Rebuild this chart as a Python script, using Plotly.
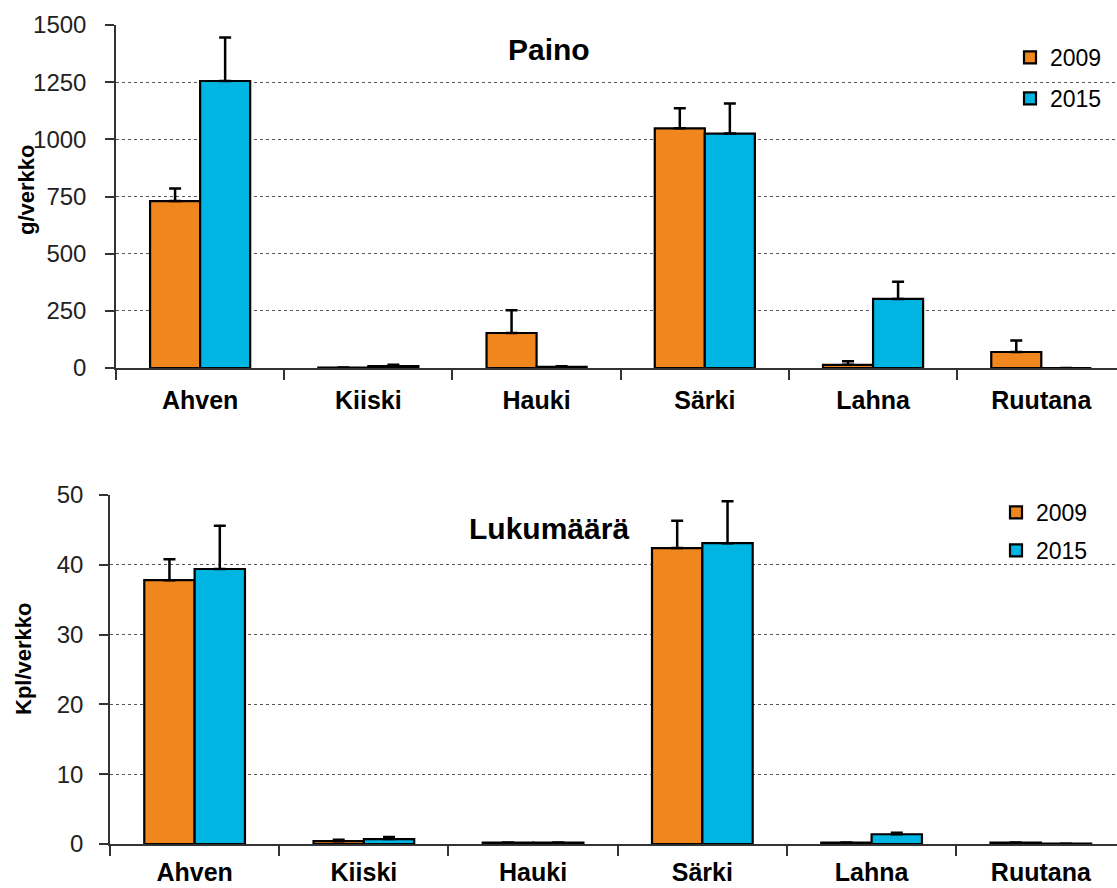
import plotly.graph_objects as go

species = ["Ahven", "Kiiski", "Hauki", "Särki", "Lahna", "Ruutana"]

# Paino (g/verkko)
paino_2009 = [730, 2, 153, 1048, 14, 70]
paino_2009_err = [55, 0, 100, 88, 16, 50]
paino_2015 = [1255, 8, 5, 1025, 302, 0]
paino_2015_err = [190, 6, 3, 132, 75, 0]

# Lukumäärä (kpl/verkko)
luku_2009 = [37.8, 0.4, 0.2, 42.4, 0.2, 0.2]
luku_2009_err = [3.0, 0.2, 0.0, 3.9, 0.0, 0.0]
luku_2015 = [39.4, 0.7, 0.2, 43.1, 1.4, 0.05]
luku_2015_err = [6.2, 0.3, 0.0, 6.0, 0.2, 0.0]

ORANGE = "#F0861E"
BLUE = "#00B5E2"
FONT = "Liberation Sans, Arial, sans-serif"

fig = go.Figure()


def add_pair(vals_a, err_a, vals_b, err_b, xref, yref, legend):
    for name, vals, err, col in (("2009", vals_a, err_a, ORANGE),
                                 ("2015", vals_b, err_b, BLUE)):
        fig.add_trace(go.Bar(
            x=species, y=vals, name=name, xaxis=xref, yaxis=yref,
            legend=legend, offsetgroup=name, legendgroup=legend + name,
            marker=dict(color=col, line=dict(color="black", width=2.2)),
            error_y=dict(type="data", array=err, arrayminus=[0] * len(err),
                         symmetric=False, color="black", thickness=2.5, width=6),
        ))


add_pair(paino_2009, paino_2009_err, paino_2015, paino_2015_err, "x", "y", "legend")
add_pair(luku_2009, luku_2009_err, luku_2015, luku_2015_err, "x2", "y2", "legend2")

H = 888.0
W = 1117.0
top_dom = [(H - 368) / H, (H - 25) / H]
bot_dom = [(H - 844) / H, (H - 495) / H]

tick_font = dict(family=FONT, size=24, color="#222")
cat_font = dict(family=FONT, size=25, color="black", weight="bold")
title_font = dict(family=FONT, size=22, color="black")

xcommon = dict(
    type="category", showline=True, linecolor="#333", linewidth=1.5,
    ticks="outside", tickson="boundaries", ticklen=10, tickcolor="#333",
    tickwidth=1.5, showgrid=False, tickfont=cat_font,
    range=[-0.5, 5.45], automargin=False,
)
ycommon = dict(
    showline=True, linecolor="#333", linewidth=1.5, ticks="outside",
    ticklen=9, tickcolor="#333", tickwidth=1.5, showgrid=True,
    gridcolor="#555", griddash="dot", gridwidth=1, tickfont=tick_font,
    zeroline=False, automargin=False,
)


def label(text, px, py, size, angle=0):
    return dict(text=text, x=px / W, y=1 - py / H, xref="paper",
                yref="paper", showarrow=False, xanchor="center",
                yanchor="middle", textangle=angle,
                font=dict(family=FONT, size=size, color="black"))


fig.update_layout(
    width=1117, height=888,
    margin=dict(l=0, r=0, t=0, b=0, autoexpand=False),
    paper_bgcolor="white", plot_bgcolor="white",
    barmode="group", bargap=0.405, bargroupgap=0,
    showlegend=True,
    font=dict(family=FONT, color="black"),
    xaxis=dict(xcommon, domain=[116 / W, 1], anchor="y", ticklabelstandoff=9),
    yaxis=dict(ycommon, domain=top_dom, anchor="x", range=[0, 1500],
               dtick=250, ticklabelstandoff=14),
    xaxis2=dict(xcommon, domain=[110 / W, 1], anchor="y2", ticklabelstandoff=5),
    yaxis2=dict(ycommon, domain=bot_dom, anchor="x2", range=[0, 50],
                dtick=10, ticklabelstandoff=11),
    legend=dict(x=1010 / W, y=1 - 36 / H, xanchor="left", yanchor="top",
                font=dict(family=FONT, size=23, color="black"),
                bgcolor="rgba(0,0,0,0)", itemwidth=30, tracegroupgap=8,
                traceorder="grouped"),
    legend2=dict(x=996 / W, y=1 - 491 / H, xanchor="left", yanchor="top",
                 font=dict(family=FONT, size=23, color="black"),
                 bgcolor="rgba(0,0,0,0)", itemwidth=30, tracegroupgap=5,
                 traceorder="grouped"),
    annotations=[
        label("<b>Paino</b>", 549, 49, 30),
        label("<b>Lukumäärä</b>", 549, 528, 30),
        label("<b>g/verkko</b>", 26, 190, 22, -90),
        label("<b>Kpl/verkko</b>", 23, 659, 22, -90),
    ],
)

fig.write_html("out.html")
